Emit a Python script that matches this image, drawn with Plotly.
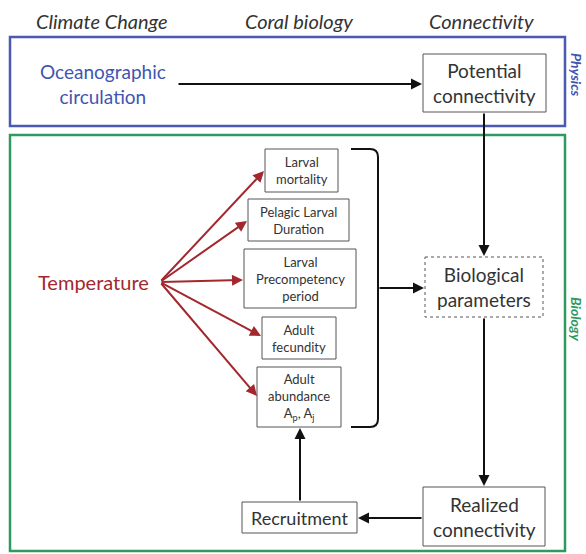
import plotly.graph_objects as go

# ---- content ----
headers = ["Climate Change", "Coral biology", "Connectivity"]
header_x = [102, 299, 481]

bio_labels = ["Larval<br>mortality", "Pelagic Larval<br>Duration",
              "Larval<br>Precompetency<br>period", "Adult<br>fecundity",
              "Adult<br>abundance<br>A<sub>p</sub>, A<sub>j</sub>"]
bio_x0 = [265, 248, 244, 262, 257]
bio_x1 = [338, 349, 356, 336, 341]
bio_y0 = [149, 199, 249, 317, 367]
bio_y1 = [192, 241, 308, 359, 427]

right_labels = ["Potential<br>connectivity", "Biological<br>parameters", "Realized<br>connectivity"]
right_x0 = [423, 425, 423]
right_x1 = [546, 543, 545]
right_y0 = [54, 257, 487]
right_y1 = [112, 317, 546]

FONT = "Lato"
DARK = "#333333"
BLUE = "#3f55b0"
GREEN = "#2f9a60"
RED = "#a3282d"

fig = go.Figure()
shapes = []
ann = []

# section frames
shapes.append(dict(type="rect", x0=10, x1=565, y0=37, y1=126, line=dict(color="#4a5ab2", width=2.5)))
shapes.append(dict(type="rect", x0=10, x1=565, y0=135, y1=551, line=dict(color=GREEN, width=2.5)))

# headers
for h, hx in zip(headers, header_x):
    ann.append(dict(x=hx, y=21, text="<i>" + h + "</i>", showarrow=False,
                    font=dict(family=FONT, size=20, color=DARK)))

ann.append(dict(x=577, y=75, text="<b><i>Physics</i></b>", textangle=90, showarrow=False,
                font=dict(family=FONT, size=14, color=BLUE)))
ann.append(dict(x=577, y=319, text="<b><i>Biology</i></b>", textangle=90, showarrow=False,
                font=dict(family=FONT, size=14, color=GREEN)))

ann.append(dict(x=103, y=84, text="Oceanographic<br>circulation", showarrow=False,
                font=dict(family=FONT, size=19, color=BLUE)))
ann.append(dict(x=93, y=282, text="Temperature", showarrow=False,
                font=dict(family=FONT, size=20, color=RED)))

# left boxes
for lab, a, b, c, d in zip(bio_labels, bio_x0, bio_x1, bio_y0, bio_y1):
    shapes.append(dict(type="rect", x0=a, x1=b, y0=c, y1=d, line=dict(color="#555555", width=1),
                       fillcolor="white"))
    ann.append(dict(x=(a + b) / 2, y=(c + d) / 2, text=lab, showarrow=False,
                    font=dict(family=FONT, size=13, color=DARK)))

# right boxes
for i, (lab, a, b, c, d) in enumerate(zip(right_labels, right_x0, right_x1, right_y0, right_y1)):
    shapes.append(dict(type="rect", x0=a, x1=b, y0=c, y1=d,
                       line=dict(color="#555555", width=1, dash="dot" if i == 1 else "solid"),
                       fillcolor="white"))
    ann.append(dict(x=(a + b) / 2, y=(c + d) / 2, text=lab, showarrow=False,
                    font=dict(family=FONT, size=19, color=DARK)))

# recruitment
shapes.append(dict(type="rect", x0=242, x1=357, y0=502, y1=533, line=dict(color="#555555", width=1)))
ann.append(dict(x=299.5, y=517.5, text="Recruitment", showarrow=False,
                font=dict(family=FONT, size=18, color=DARK)))

# bracket
shapes.append(dict(type="path",
                   path="M 351,149 L 370,149 Q 378,149 378,157 L 378,419 Q 378,427 370,427 L 351,427",
                   line=dict(color="#111111", width=2)))


def arrow(x0, y0, x1, y1, color="#111111", width=2):
    ann.append(dict(x=x1, y=y1, ax=x0, ay=y0, xref="x", yref="y", axref="x", ayref="y",
                    text="", showarrow=True, arrowhead=2, arrowsize=1.1, arrowwidth=width,
                    arrowcolor=color, standoff=0, startstandoff=0))


arrow(177, 84, 422, 84)
arrow(484, 112, 484, 256)
arrow(378, 288, 424, 288)
arrow(484, 317, 484, 486)
arrow(423, 518, 358, 518)
arrow(300, 502, 300, 428)

# temperature arrows
tips = [(264, 171), (247, 221), (243, 280), (261, 336), (257, 396)]
for tx, ty in tips:
    arrow(160, 282, tx, ty, color=RED, width=2)

fig.update_layout(
    width=586, height=554, margin=dict(l=0, r=0, t=0, b=0),
    paper_bgcolor="white", plot_bgcolor="white",
    xaxis=dict(range=[0, 586], visible=False, fixedrange=True),
    yaxis=dict(range=[554, 0], visible=False, fixedrange=True),
    shapes=shapes, annotations=ann, showlegend=False,
)
fig.write_html("out.html", config={"displayModeBar": False},
               post_script="document.body.style.margin='0';document.body.style.overflow='hidden';")
